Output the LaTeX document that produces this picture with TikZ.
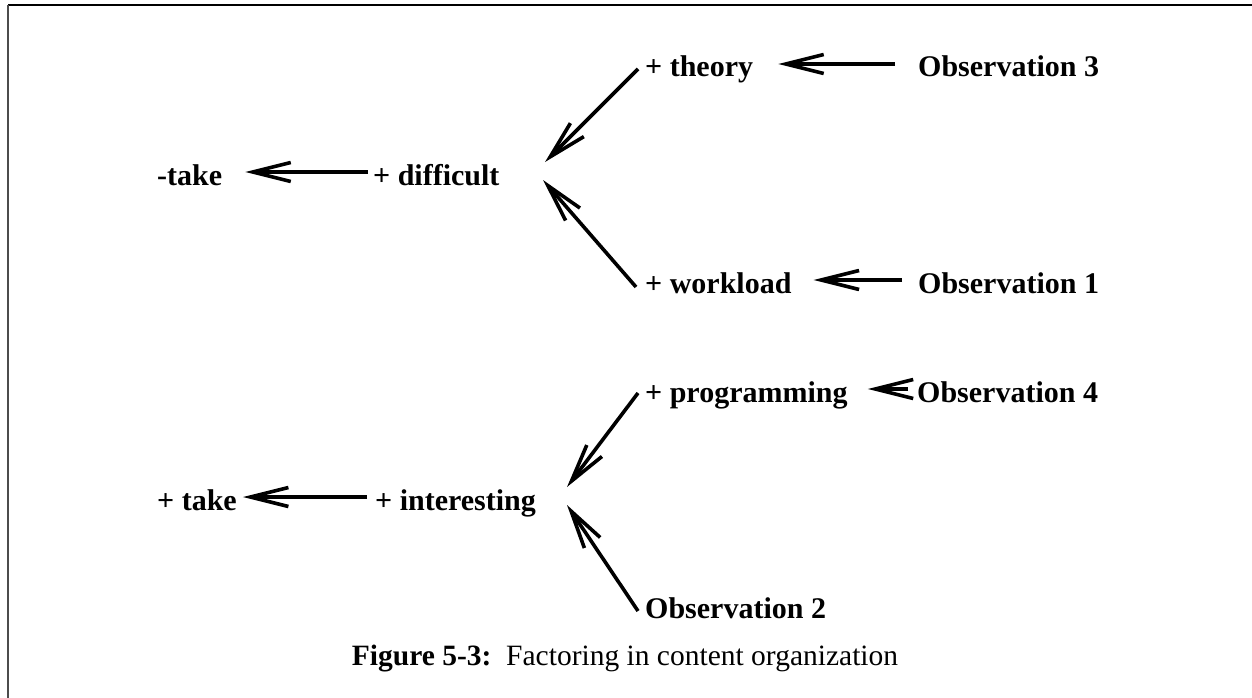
\documentclass[tikz,border=0pt]{standalone}
\usepackage{fontspec}
\setmainfont{Liberation Serif}
\usetikzlibrary{arrows.meta}
\begin{document}
\begin{tikzpicture}[x=1pt,y=-1pt,
  lbl/.style={anchor=base west,inner sep=0pt,text height=28pt,text depth=2pt,
    font=\fontsize{30}{36}\selectfont\bfseries},
  arr/.style={line width=3.6pt,-{Straight Barb[length=38pt,width=19pt,line width=3.6pt]}},
  frameline/.style={line width=2pt}]
\useasboundingbox (0,0) rectangle (1252,698);
% open frame: top and left edges only
\draw[frameline,black] (8,5) -- (1252,5);
\draw[frameline,black!70] (8,5) -- (8,698);

% upper cluster
\node[lbl] (take) at (157,185) {-take};
\node[lbl] (difficult) at (373,185) {+ difficult};
\node[lbl] (theory) at (645,77) {+ theory};
\node[lbl] (obs3) at (918,77) {Observation 3};
\node[lbl] (workload) at (645,293) {+ workload};
\node[lbl] (obs1) at (918,293) {Observation 1};
\coordinate (diffInA) at (545,162);
\coordinate (diffInB) at (543,180);

% lower cluster
\node[lbl] (ptake) at (157,510) {+ take};
\node[lbl] (interesting) at (375,510) {+ interesting};
\node[lbl] (programming) at (645,402) {+ programming};
\node[lbl] (obs4) at (917,402) {Observation 4};
\node[lbl] (obs2) at (645,618) {Observation 2};
\coordinate (intInA) at (567,487);
\coordinate (intInB) at (567,505);

% connectors
\draw[arr,shorten <=23pt,shorten >=25pt] (obs3.west) -- (theory.east);
\draw[arr,shorten <=16pt,shorten >=22pt] (obs1.west) -- (workload.east);
\draw[arr,shorten <=5pt,shorten >=23pt] (difficult.west) -- (take.east);
\draw[arr] ([shift={(-7,-8)}]theory.base west) -- (diffInA);
\draw[arr] ([shift={(-9,-6)}]workload.base west) -- (diffInB);

\draw[arr,shorten <=9pt,shorten >=20pt] (obs4.west) -- (programming.east);
\draw[arr,shorten <=8pt,shorten >=6pt] (interesting.west) -- (ptake.east);
\draw[arr] ([shift={(-7,-9)}]programming.base west) -- (intInA);
\draw[arr] ([shift={(-7,-7)}]obs2.base west) -- (intInB);

% caption
\node[anchor=base,inner sep=0pt,font=\fontsize{29.5}{35}\selectfont] (caption) at (625,665)
  {\textbf{Figure 5-3:}\ \ Factoring in content organization};
\end{tikzpicture}
\end{document}
